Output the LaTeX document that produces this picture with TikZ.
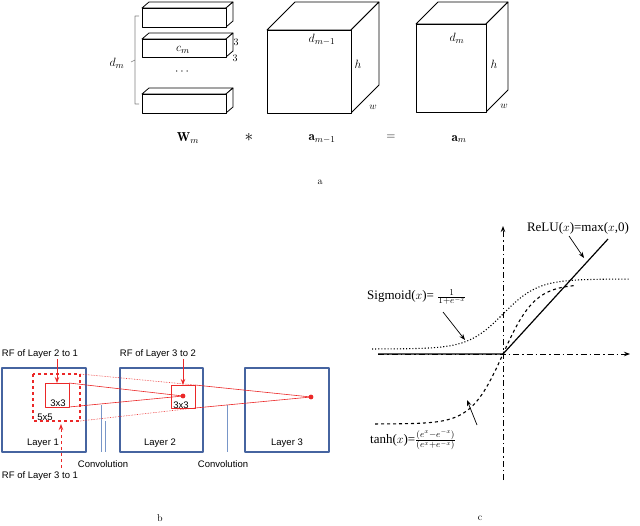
\documentclass[tikz,border=0pt]{standalone}
\usepackage{fontspec}
\usepackage{amsmath}
\newfontfamily\sansb{Liberation Sans}
\newfontfamily\tms{Liberation Serif}
\usetikzlibrary{arrows.meta}
\definecolor{rfc}{RGB}{235,40,40}
\definecolor{layc}{RGB}{70,100,160}
\definecolor{convc}{RGB}{120,150,200}
\begin{document}
\begin{tikzpicture}[x=1pt,y=-1pt,line join=round,
  cub/.style={draw=black,line width=0.8pt,fill=white},
  rf/.style={draw=rfc,line width=1pt},
  lay/.style={draw=layc,line width=1.2pt},
  lt/.style={font=\sansb\fontsize{9.5}{10}\selectfont,inner sep=0pt},
  atxt/.style={font=\fontsize{13}{14}\selectfont},
  ct/.style={font=\tms\fontsize{13}{14}\selectfont,inner sep=0pt},
  ax/.style={line width=1pt,dash pattern=on 6pt off 3pt on 1.5pt off 3pt}]
\useasboundingbox (0,0) rectangle (640,525);
% ---------- panel a
\newcommand{\mybox}[6]{%
  \draw[cub] (#1,#2) -- (#1+#5,#2-#6) -- (#3+#5,#2-#6) -- (#3,#2) -- cycle;
  \draw[cub] (#3,#2) -- (#3+#5,#2-#6) -- (#3+#5,#4-#6) -- (#3,#4) -- cycle;
  \draw[cub] (#1,#2) rectangle (#3,#4);}
\mybox{142}{8}{226}{27}{7}{6}
\mybox{142}{39}{226}{57}{7}{6}
\mybox{142}{94}{226}{113}{7}{6}
\mybox{267}{30}{351}{113}{28}{28}
\mybox{416}{24}{486}{112}{22}{22}
\node[atxt] (dots) at (183,72) {$\cdots$};
\draw[gray,line width=0.6pt] (139,16) -- (135,16) -- (135,104) -- (139,104) (135,60) -- (131,62);
\node[atxt] (dm) at (117,63) {$d_m$};
\node (t1) at (236,42) {3};
\node (t2) at (235,58) {3};
\node[atxt] (cm) at (183,50) {$c_m$};
\node[atxt] (dm1) at (322,40) {$d_{m-1}$};
\node[atxt] (h1) at (358,64) {$h$};
\node (w1) at (373,107) {$w$};
\node[atxt] (dm2) at (457,38) {$d_m$};
\node[atxt] (h2) at (494,64) {$h$};
\node (w2) at (504,106) {$w$};
\node[atxt] (W) at (188,138) {$\mathbf{W}_m$};
\node (st) at (249,137) {\LARGE $\ast$};
\node[atxt] (A1) at (322,139) {$\mathbf{a}_{m-1}$};
\node[atxt] (eq) at (391,137) {$=$};
\node[atxt] (A2) at (459,139) {$\mathbf{a}_m$};
\node (la) at (320,182) {a};
% ---------- panel b
\draw[lay] (2,368) rectangle (86,452);
\draw[lay] (120,368) rectangle (203,452);
\draw[lay] (245,368) rectangle (329,452);
\node[lt] (L1) at (43,443) {Layer 1};
\node[lt] (L2) at (160,443) {Layer 2};
\node[lt] (L3) at (287,443) {Layer 3};
\draw[convc,line width=0.8pt] (101,405)--(101,452) (105,421)--(105,452) (227,405)--(227,452);
\node[lt] (C1) at (103,464) {Convolution};
\node[lt] (C2) at (223,464) {Convolution};
\draw[rf] (45,383) rectangle (69,407);
\draw[rf,dashed,line width=1.2pt] (33,374) rectangle (80,421);
\draw[rf] (171,385) rectangle (195,408);
\fill[rfc] (183,396) circle (2.4);
\fill[rfc] (311,397) circle (2.4);
\draw[rf,line width=0.6pt] (69,383) -- (183,396) (69,407) -- (183,396);
\draw[rf,line width=0.6pt,densely dotted] (80,374) -- (195,385) (80,421) -- (195,408);
\draw[rf,line width=0.6pt] (195,385) -- (311,397) (195,408) -- (311,397);
\node[lt] (n33a) at (58,403) {3x3};
\node[lt] (n55) at (45,417) {5x5};
\node[lt] (n33b) at (181,405) {3x3};
\node[lt] (r21) at (40,354) {RF of Layer 2 to 1};
\node[lt] (r32) at (158,354) {RF of Layer 3 to 2};
\node[lt] (r31) at (40,476) {RF of Layer 3 to 1};
\draw[rf,-{Stealth[length=6pt]}] (57,359) -- (57,383);
\draw[rf,-{Stealth[length=6pt]}] (183,359) -- (183,385);
\draw[rf,dashed,-{Stealth[length=6pt]}] (61,468) -- (61,424);
\node (lb) at (160,518) {b};
% ---------- panel c
\coordinate (O) at (503,354);
\draw[ax,-{Stealth[length=6pt]}] (503,480) -- (503,226);
\draw[ax,-{Stealth[length=6pt]}] (378,354) -- (630,354);
\draw[line width=1.2pt] (378,354) -- (O) -- (608,239);
\draw[line width=1.1pt,dotted,domain=372:630,samples=80] plot (\x,{314-35*tanh((\x-503)/35)});
\draw[line width=1.1pt,dashed,domain=375:575,samples=80] plot (\x,{354-70*tanh((\x-503)/32)});
\node[ct,anchor=west] (sig) at (367,297) {Sigmoid($x$)= $\frac{1}{1+e^{-x}}$};
\node[ct,anchor=west] (tnh) at (370,440) {tanh($x$)=$\frac{(e^x-e^{-x})}{(e^x+e^{-x})}$};
\node[ct] (relu) at (578,228) {ReLU($x$)=max($x$,0)};
\draw[-{Stealth[length=6pt]},line width=0.7pt] (443,312) -- (465,340);
\draw[-{Stealth[length=6pt]},line width=0.7pt] (477,425) -- (467,400);
\draw[-{Stealth[length=6pt]},line width=0.7pt] (569,236) -- (584,258);
\node (lc) at (480,518) {c};
\end{tikzpicture}
\end{document}
